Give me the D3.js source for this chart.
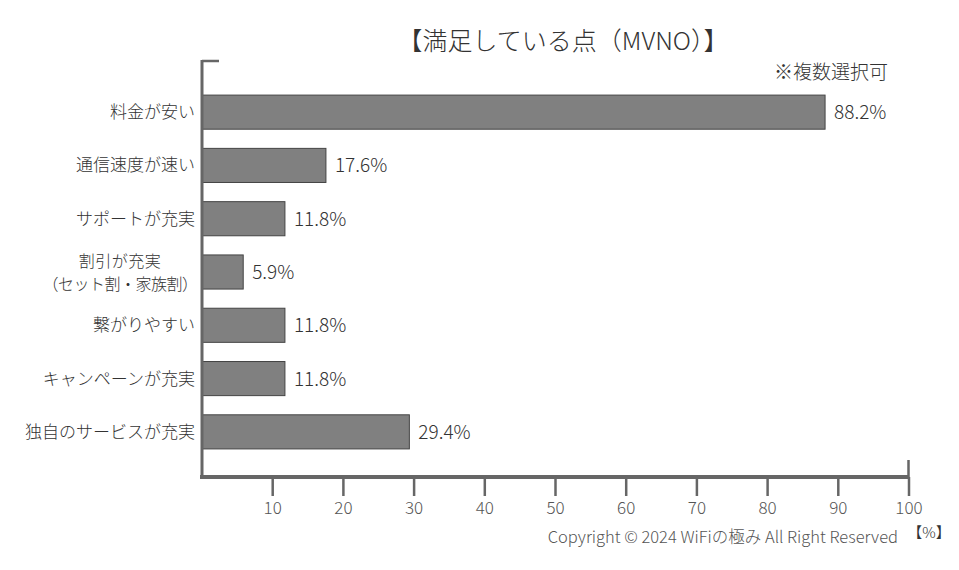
<!DOCTYPE html>
<html><head><meta charset="utf-8">
<script src="https://cdn.jsdelivr.net/npm/d3@7"></script>
<style>body{margin:0;background:#fff}svg{display:block}text{font-family:"Noto Sans CJK JP","Noto Sans",sans-serif;font-weight:300}</style>
</head><body>
<script>
const categories = ["料金が安い","通信速度が速い","サポートが充実","割引が充実\n（セット割・家族割）","繋がりやすい","キャンペーンが充実","独自のサービスが充実"];
const values = [88.2,17.6,11.8,5.9,11.8,11.8,29.4];
const valueLabels = ["88.2%","17.6%","11.8%","5.9%","11.8%","11.8%","29.4%"];
const tickValues = [10,20,30,40,50,60,70,80,90,100];
const title = "【満足している点（MVNO）】";
const note = "※複数選択可";
const copyright = "Copyright © 2024 WiFiの極み All Right Reserved";
const unit = "【%】";

const W=959,H=570;
const svg=d3.select("body").append("svg").attr("width",W).attr("height",H);
const x=d3.scaleLinear().domain([0,100]).range([201.5,908.5]);
const y=d3.scaleBand().domain(categories).range([85.5,458.5]).paddingInner(0.36).paddingOuter(0.18);

svg.append("text").attr("x",563).attr("y",50).attr("text-anchor","middle").attr("font-size",25).attr("fill","#333").text(title);
svg.append("text").attr("x",831).attr("y",79).attr("text-anchor","middle").attr("font-size",19).attr("fill","#333").text(note);

svg.selectAll("rect.bar").data(values).join("rect").attr("class","bar")
 .attr("x",x(0)).attr("y",(d,i)=>y(categories[i])).attr("width",d=>x(d)-x(0)).attr("height",y.bandwidth())
 .attr("fill","#808080").attr("stroke","#444").attr("stroke-width",1);

svg.selectAll("text.val").data(values).join("text").attr("class","val")
 .attr("x",d=>x(d)+9).attr("y",(d,i)=>y(categories[i])+y.bandwidth()/2+7)
 .attr("font-size",19).attr("fill","#333").text((d,i)=>valueLabels[i]);

// category labels
categories.forEach((c,i)=>{
  const lines=c.split("\n");
  const cy=y(c)+y.bandwidth()/2;
  if(lines.length===1){
    svg.append("text").attr("text-anchor","end").attr("font-size",17).attr("fill","#333")
      .attr("x",195).attr("y",cy+6).text(c);
  } else {
    lines.forEach((l,j)=>{
      svg.append("text").attr("text-anchor","middle").attr("font-size",16).attr("fill","#333")
        .attr("letter-spacing",j>0?-0.5:0.5)
        .attr("x",120).attr("y",cy+6+(j-(lines.length-1)/2)*23).text(l);
    });
  }
});

// x axis
const xa=svg.append("g").attr("transform","translate(0,477)")
 .call(d3.axisBottom(x).tickValues(tickValues).tickSize(19).tickPadding(6).tickFormat(d3.format("d")));
xa.select(".domain").remove();
xa.selectAll(".tick line").attr("stroke","#666").attr("stroke-width",2.5);
xa.selectAll(".tick text").attr("font-size",17).attr("fill","#555").style("font-family","'Noto Sans CJK JP',sans-serif").style("font-weight",300);
svg.append("line").attr("x1",200).attr("x2",908.5).attr("y1",477).attr("y2",477).attr("stroke","#666").attr("stroke-width",4);
svg.append("line").attr("x1",x(100)).attr("x2",x(100)).attr("y1",460).attr("y2",477).attr("stroke","#666").attr("stroke-width",2.5);
// y axis
svg.append("line").attr("x1",202).attr("x2",202).attr("y1",60).attr("y2",479).attr("stroke","#666").attr("stroke-width",3);
svg.append("line").attr("x1",202).attr("x2",219).attr("y1",61).attr("y2",61).attr("stroke","#666").attr("stroke-width",2.5);

svg.append("text").attr("x",898).attr("y",543).attr("text-anchor","end").attr("font-size",16.5).attr("fill","#555").text(copyright);
svg.append("text").attr("x",929).attr("y",538).attr("text-anchor","middle").attr("font-size",15).attr("fill","#333").text(unit);
</script>
</body></html>
